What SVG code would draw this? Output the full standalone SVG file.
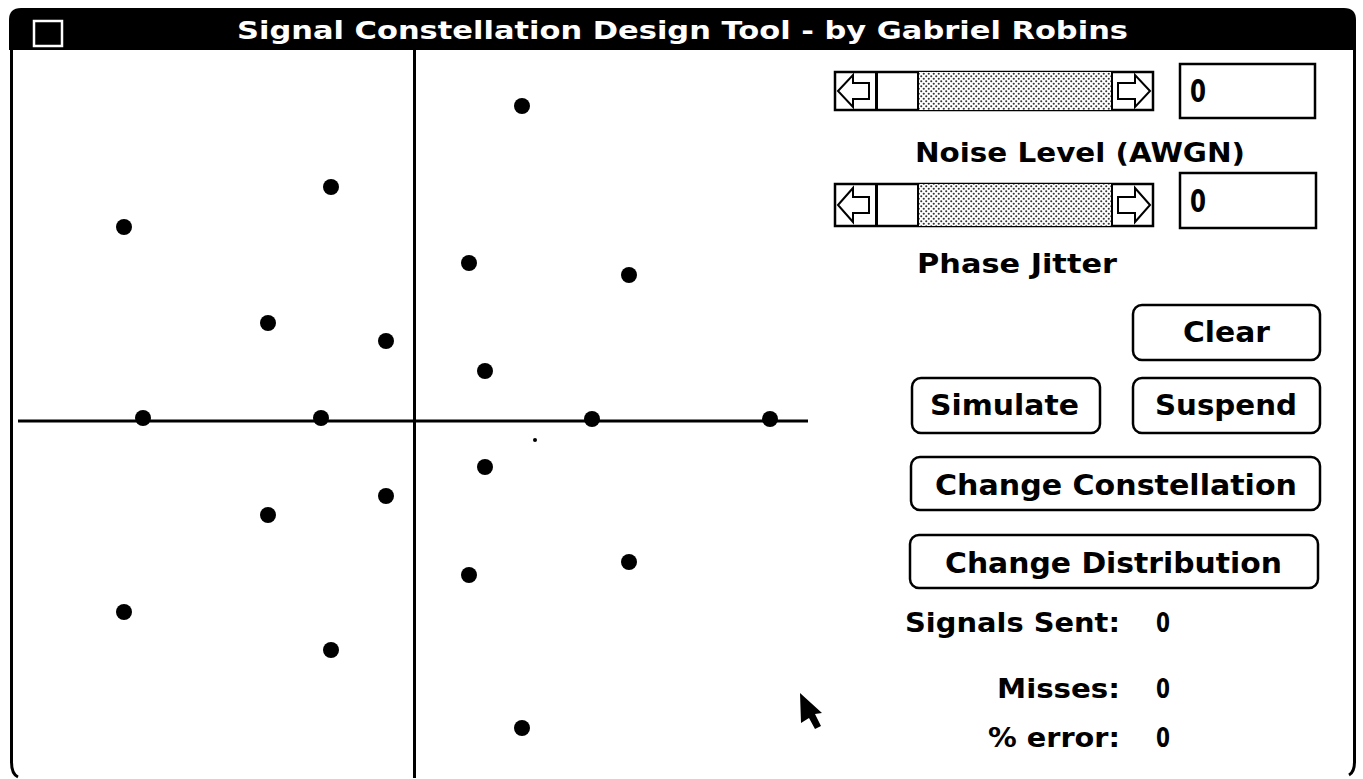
<svg xmlns="http://www.w3.org/2000/svg" width="1363" height="779" viewBox="0 0 1363 779">
<style>
.t{font-family:"DejaVu Sans","Liberation Sans",sans-serif;font-weight:bold;fill:#000}
.tw{font-family:"DejaVu Sans","Liberation Sans",sans-serif;font-weight:bold;fill:#fff}
.btn{fill:#fff;stroke:#000;stroke-width:2.5}
.fld{fill:#fff;stroke:#000;stroke-width:2.5}
.dot{fill:#000}
.ln{stroke:#000;stroke-width:3;fill:none}
.arr{fill:#fff;stroke:#000;stroke-width:2;stroke-linejoin:miter}
</style>
<defs>
<pattern id="stip" width="5" height="5" patternUnits="userSpaceOnUse">
<rect width="5" height="5" fill="#fff"/>
<circle cx="1.25" cy="1.25" r="1.05" fill="#333"/>
<circle cx="3.75" cy="3.75" r="1.05" fill="#333"/>
</pattern>
</defs>
<rect width="1363" height="779" fill="#fff"/>
<g id="window">
<path d="M9,50 L9,20 Q9,8 21,8 L1344,8 Q1356,8 1356,20 L1356,50 Z" fill="#000"/>
<rect x="34" y="21" width="28" height="25" fill="none" stroke="#fff" stroke-width="2.5"/>
<text class="tw" x="237" y="39" font-size="25" textLength="891" lengthAdjust="spacingAndGlyphs">Signal Constellation Design Tool - by Gabriel Robins</text>
<path class="ln" d="M11.5,49 L11.5,762 Q11.5,774 18,777"/>
<path class="ln" d="M1354.5,49 L1354.5,762 Q1354.5,772 1349,775"/>
</g>
<g id="axes">
<line class="ln" x1="414.5" y1="49" x2="414.5" y2="778"/>
<line class="ln" x1="18" y1="421" x2="808" y2="421"/>
</g>
<g id="constellation">
<circle class="dot" cx="522" cy="106" r="8"/>
<circle class="dot" cx="331" cy="187" r="8"/>
<circle class="dot" cx="124" cy="227" r="8"/>
<circle class="dot" cx="469" cy="263" r="8"/>
<circle class="dot" cx="629" cy="275" r="8"/>
<circle class="dot" cx="268" cy="323" r="8"/>
<circle class="dot" cx="386" cy="341" r="8"/>
<circle class="dot" cx="485" cy="371" r="8"/>
<circle class="dot" cx="143" cy="418" r="8"/>
<circle class="dot" cx="321" cy="418" r="8"/>
<circle class="dot" cx="592" cy="419" r="8"/>
<circle class="dot" cx="770" cy="419" r="8"/>
<circle class="dot" cx="485" cy="467" r="8"/>
<circle class="dot" cx="386" cy="496" r="8"/>
<circle class="dot" cx="268" cy="515" r="8"/>
<circle class="dot" cx="469" cy="575" r="8"/>
<circle class="dot" cx="629" cy="562" r="8"/>
<circle class="dot" cx="124" cy="612" r="8"/>
<circle class="dot" cx="331" cy="650" r="8"/>
<circle class="dot" cx="522" cy="728" r="8"/>
<circle class="dot" cx="535" cy="440" r="2"/>
</g>
<g id="noise-scrollbar">
<rect x="835" y="72" width="318" height="38" fill="#fff" stroke="#000" stroke-width="2.5"/>
<rect x="918" y="72" width="194" height="38" fill="url(#stip)"/>
<line class="ln" x1="876.5" y1="72" x2="876.5" y2="110"/>
<line x1="918" y1="72" x2="918" y2="110" stroke="#000" stroke-width="2"/>
<line x1="1112" y1="72" x2="1112" y2="110" stroke="#000" stroke-width="2"/>
<polygon class="arr" points="838,91 853,75 853,83 869,83 869,99 853,99 853,107"/>
<polygon class="arr" points="1150,91 1135,75 1135,83 1118,83 1118,99 1135,99 1135,107"/>
</g>
<g id="noise-field">
<rect class="fld" x="1180" y="64" width="135" height="54"/>
<text class="t" x="1190" y="102" font-size="32" textLength="16" lengthAdjust="spacingAndGlyphs">0</text>
</g>
<g id="noise-label">
<text class="t" x="915" y="162" font-size="27" textLength="330" lengthAdjust="spacingAndGlyphs">Noise Level (AWGN)</text>
</g>
<g id="jitter-scrollbar">
<rect x="835" y="184" width="318" height="42" fill="#fff" stroke="#000" stroke-width="2.5"/>
<rect x="918" y="184" width="194" height="42" fill="url(#stip)"/>
<line class="ln" x1="876.5" y1="184" x2="876.5" y2="226"/>
<line x1="918" y1="184" x2="918" y2="226" stroke="#000" stroke-width="2"/>
<line x1="1112" y1="184" x2="1112" y2="226" stroke="#000" stroke-width="2"/>
<polygon class="arr" points="838,205 853,188 853,197 869,197 869,213 853,213 853,222"/>
<polygon class="arr" points="1150,205 1135,188 1135,197 1118,197 1118,213 1135,213 1135,222"/>
</g>
<g id="jitter-field">
<rect class="fld" x="1180" y="173" width="136" height="55"/>
<text class="t" x="1190" y="212" font-size="32" textLength="16" lengthAdjust="spacingAndGlyphs">0</text>
</g>
<g id="jitter-label">
<text class="t" x="917" y="273" font-size="27" textLength="200" lengthAdjust="spacingAndGlyphs">Phase Jitter</text>
</g>
<g id="btn-clear">
<rect class="btn" x="1133" y="305" width="187" height="55" rx="9"/>
<text class="t" x="1183" y="342" font-size="29" textLength="87" lengthAdjust="spacingAndGlyphs">Clear</text>
</g>
<g id="btn-simulate">
<rect class="btn" x="912" y="378" width="188" height="55" rx="9"/>
<text class="t" x="930" y="415" font-size="29" textLength="149" lengthAdjust="spacingAndGlyphs">Simulate</text>
</g>
<g id="btn-suspend">
<rect class="btn" x="1133" y="378" width="187" height="55" rx="9"/>
<text class="t" x="1155" y="415" font-size="29" textLength="142" lengthAdjust="spacingAndGlyphs">Suspend</text>
</g>
<g id="btn-constellation">
<rect class="btn" x="911" y="457" width="409" height="53" rx="9"/>
<text class="t" x="935" y="495" font-size="29" textLength="362" lengthAdjust="spacingAndGlyphs">Change Constellation</text>
</g>
<g id="btn-distribution">
<rect class="btn" x="910" y="535" width="408" height="53" rx="9"/>
<text class="t" x="945" y="573" font-size="29" textLength="337" lengthAdjust="spacingAndGlyphs">Change Distribution</text>
</g>
<g id="stats">
<text class="t" x="905" y="632" font-size="26" textLength="215" lengthAdjust="spacingAndGlyphs">Signals Sent:</text>
<text class="t" x="1156" y="632" font-size="27" textLength="14" lengthAdjust="spacingAndGlyphs">0</text>
<text class="t" x="997" y="698" font-size="26" textLength="123" lengthAdjust="spacingAndGlyphs">Misses:</text>
<text class="t" x="1156" y="698" font-size="27" textLength="14" lengthAdjust="spacingAndGlyphs">0</text>
<text class="t" x="988" y="747" font-size="26" textLength="132" lengthAdjust="spacingAndGlyphs">% error:</text>
<text class="t" x="1156" y="747" font-size="27" textLength="14" lengthAdjust="spacingAndGlyphs">0</text>
</g>
<g id="cursor">
<polygon points="800,693 822,713 815,714 821,726 815,729 809,718 801,723" fill="#000"/>
</g>
</svg>
